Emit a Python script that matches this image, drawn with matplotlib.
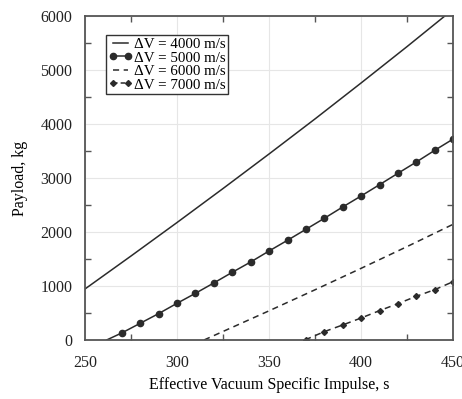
import matplotlib
matplotlib.use("Agg")
import matplotlib.pyplot as plt
from matplotlib.ticker import MultipleLocator

plt.rcParams['font.family'] = ['Liberation Serif', 'DejaVu Serif']

# values
isp_4000 = [250, 275, 300, 325, 350, 375, 400, 425, 450]
payload_4000 = [944, 1555, 2175, 2805, 3445, 4095, 4760, 5435, 6125]

isp_5000 = [261.8, 270, 280, 290, 300, 310, 320, 330, 340, 350,
            360, 370, 380, 390, 400, 410, 420, 430, 440, 450]
payload_5000 = [0, 130, 309, 488, 679, 864, 1056, 1253, 1444, 1648,
                1846, 2049, 2253, 2463, 2667, 2876, 3087, 3296, 3513, 3722]

isp_6000 = [314.7, 350, 375, 400, 425, 450]
payload_6000 = [0, 540, 930, 1327, 1730, 2143]

isp_7000 = [369.6, 370, 380, 390, 400, 410, 420, 430, 440, 450]
payload_7000 = [0, 8, 154, 278, 407, 543, 673, 809, 932, 1080]

line_col = '#2b2b2b'
fs = 11.5

fig = plt.figure(figsize=(4.62, 3.99), dpi=100)
ax = fig.add_axes([0.184, 0.148, 0.797, 0.812])

ax.plot(isp_4000, payload_4000, '-', color=line_col, lw=1.1, label='ΔV = 4000 m/s')
ax.plot(isp_5000[1:], payload_5000[1:], 'o', color=line_col, ms=4.5)
ax.plot(isp_5000, payload_5000, '-', color=line_col, lw=1.1)
ax.plot([], [], '-o', color=line_col, lw=1.1, ms=4.5, label='ΔV = 5000 m/s')
ax.plot(isp_6000, payload_6000, '--', color=line_col, lw=1.1, dashes=(4, 3), label='ΔV = 6000 m/s')
ax.plot(isp_7000[1:], payload_7000[1:], 'D', color=line_col, ms=3)
ax.plot(isp_7000, payload_7000, '--', color=line_col, lw=1.1, dashes=(4, 3))
ax.plot([], [], '--D', color=line_col, lw=1.1, ms=3, dashes=(3, 2), label='ΔV = 7000 m/s')

ax.set_xlim(250, 450)
ax.set_ylim(0, 6000)
ax.xaxis.set_major_locator(MultipleLocator(50))
ax.xaxis.set_minor_locator(MultipleLocator(25))
ax.yaxis.set_major_locator(MultipleLocator(1000))
ax.yaxis.set_minor_locator(MultipleLocator(500))
ax.tick_params(which='major', length=0, labelsize=fs, colors='#222222')
ax.tick_params(axis='x', which='major', pad=11)
ax.tick_params(axis='y', which='major', pad=9)
ax.tick_params(which='minor', length=4, direction='in', width=1, color='#555555',
               top=True, right=True)
ax.grid(True, which='major', color='#e6e6e6', lw=0.8)
ax.set_axisbelow(True)
for s in ax.spines.values():
    s.set_color('#555555')
    s.set_linewidth(1.3)

ax.set_xlabel('Effective Vacuum Specific Impulse, s', fontsize=fs, labelpad=4)
ax.set_ylabel('Payload, kg', fontsize=fs, labelpad=9)

leg = ax.legend(loc='upper left', bbox_to_anchor=(0.057, 0.94), fontsize=10.8,
                handlelength=1.6, handletextpad=0.15, borderpad=0.15,
                labelspacing=0.0, fancybox=False, framealpha=1,
                borderaxespad=0, numpoints=2)
leg.get_frame().set_edgecolor('#333333')
leg.get_frame().set_linewidth(1.0)

fig.savefig('out.png', dpi=100)
